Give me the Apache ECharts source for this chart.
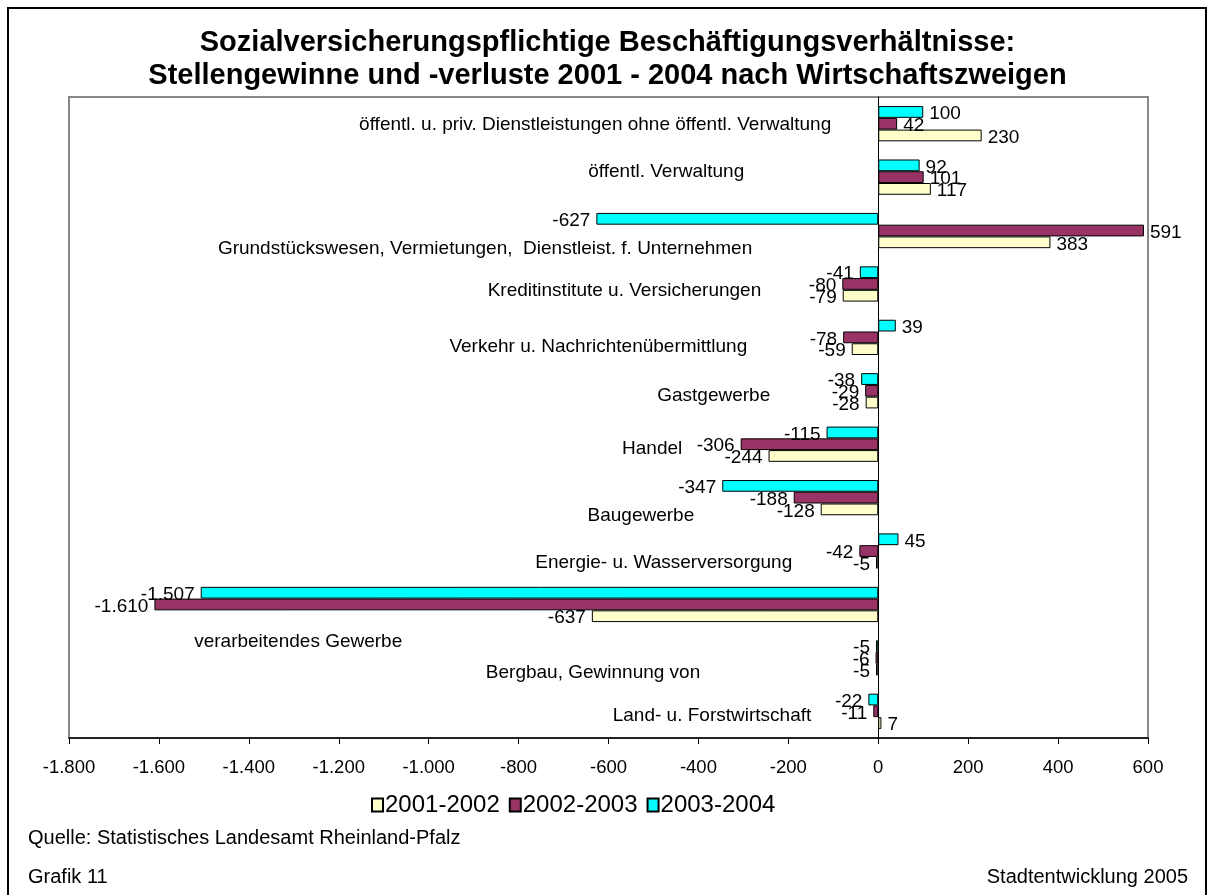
<!DOCTYPE html>
<html>
<head>
<meta charset="utf-8">
<title>Stellengewinne und -verluste 2001 - 2004</title>
<script src="https://cdn.jsdelivr.net/npm/echarts@6/dist/echarts.min.js"></script>
<style>
    html, body { margin: 0; padding: 0; background: #fff; }
    #chart { width: 1215px; height: 895px; }
</style>
</head>
<body>
<div id="chart"></div>
<script>
// Wirtschaftszweige, von unten nach oben
var categories = [
    "Land- u. Forstwirtschaft",
    "Bergbau, Gewinnung von",
    "verarbeitendes Gewerbe",
    "Energie- u. Wasserversorgung",
    "Baugewerbe",
    "Handel",
    "Gastgewerbe",
    "Verkehr u. Nachrichtenübermittlung",
    "Kreditinstitute u. Versicherungen",
    "Grundstückswesen, Vermietungen,  Dienstleist. f. Unternehmen",
    "öffentl. Verwaltung",
    "öffentl. u. priv. Dienstleistungen ohne öffentl. Verwaltung"
];
var seriesNames = ["2001-2002", "2002-2003", "2003-2004"];
var v2001 = [7, -5, -637, -5, -128, -244, -28, -59, -79, 383, 117, 230];
var v2002 = [-11, -6, -1610, -42, -188, -306, -29, -78, -80, 591, 101, 42];
var v2003 = [-22, -5, -1507, 45, -347, -115, -38, 39, -41, -627, 92, 100];
var xTicks = { min: -1800, max: 600, interval: 200 };

// Verschiebung der Kategorie-Beschriftungen [nach links, nach unten] in px
var labelShift = [[59, 4], [170, 15], [468, 37], [78, 12], [176, 18], [188, 5],
    [100, 5], [123, 9], [109, 7], [118, 18], [126, -5], [39, 1]];

var FONT = "'Liberation Sans', Arial, sans-serif";
var colors = ["#FFFFCC", "#993366", "#00FFFF"];
var gridLeft = 69, gridRight = 67, chartWidth = 1215;

function de(v) {
    var s = String(Math.abs(v)).replace(/\B(?=(\d{3})+(?!\d))/g, ".");
    return (v < 0 ? "-" : "") + s;
}

var rich = {};
labelShift.forEach(function(d, i) {
    rich["c" + i] = {
        fontFamily: FONT,
        fontSize: 19,
        color: "#000",
        padding: [d[1] > 0 ? 2 * d[1] : 0, d[0], d[1] < 0 ? -2 * d[1] : 0, 0]
    };
});

// Abstand der Null-Linie vom linken Rand des Diagramms
var zeroPx = (0 - xTicks.min) / (xTicks.max - xTicks.min) * (chartWidth - gridLeft - gridRight);

function barSeries(name, values, color) {
    return {
        name: name,
        type: "bar",
        barGap: "0%",
        barCategoryGap: "34%",
        itemStyle: { color: color, borderColor: "#000", borderWidth: 1 },
        label: {
            show: true,
            distance: 6,
            offset: [0, 2],
            fontFamily: FONT,
            fontSize: 19,
            color: "#000",
            formatter: function(p) { return de(p.value); }
        },
        data: values.map(function(v) {
            return { value: v, label: { position: v < 0 ? "left" : "right" } };
        })
    };
}

var chart = echarts.init(document.getElementById("chart"), null, { renderer: "canvas" });
var option = {
    animation: false,
    backgroundColor: "#fff",
    textStyle: { fontFamily: FONT },
    title: [{
        text: "Sozialversicherungspflichtige Beschäftigungsverhältnisse:\nStellengewinne und -verluste 2001 - 2004 nach Wirtschaftszweigen",
        left: "center",
        top: 21,
        textStyle: { fontFamily: FONT, fontSize: 29, fontWeight: "bold", color: "#000", lineHeight: 33 }
    }, {
        text: "Quelle: Statistisches Landesamt Rheinland-Pfalz",
        left: 23, top: 823,
        textStyle: { fontFamily: FONT, fontSize: 20, fontWeight: "normal", color: "#000" }
    }, {
        text: "Grafik 11",
        left: 23, top: 862,
        textStyle: { fontFamily: FONT, fontSize: 20, fontWeight: "normal", color: "#000" }
    }, {
        text: "Stadtentwicklung 2005",
        right: 22, top: 862,
        textStyle: { fontFamily: FONT, fontSize: 20, fontWeight: "normal", color: "#000" }
    }],
    legend: {
        data: seriesNames,
        left: 366,
        top: 788,
        icon: "rect",
        itemWidth: 11,
        itemHeight: 13,
        itemGap: 9,
        textStyle: { fontFamily: FONT, fontSize: 24, color: "#000", padding: [0, 0, 0, -3] }
    },
    grid: {
        left: gridLeft, right: gridRight, top: 97, bottom: 157,
        show: true, borderColor: "#888", borderWidth: 2,
        containLabel: false, outerBoundsMode: "none"
    },
    xAxis: {
        type: "value",
        min: xTicks.min, max: xTicks.max, interval: xTicks.interval,
        splitLine: { show: false },
        axisLine: { show: true, onZero: false, lineStyle: { color: "#000", width: 1.5 } },
        axisTick: { show: true, inside: false, length: 6, lineStyle: { color: "#000" } },
        axisLabel: {
            margin: 20, fontFamily: FONT, fontSize: 18.5, color: "#000",
            formatter: function(v) { return de(v); }
        }
    },
    yAxis: {
        type: "category",
        data: categories,
        axisLine: { show: true, onZero: true, lineStyle: { color: "#000", width: 1 } },
        axisTick: { show: false },
        splitLine: { show: false },
        axisLabel: {
            interval: 0,
            margin: 8 - zeroPx,
            formatter: function(v, i) { return "{c" + i + "|" + v + "}"; },
            rich: rich
        }
    },
    graphic: [{
        type: "rect",
        shape: { x: 8, y: 8, width: 1198, height: 920 },
        style: { fill: null, stroke: "#000", lineWidth: 2 },
        silent: true
    }],
    // erste Reihe liegt oben in jeder Gruppe
    series: [
        barSeries(seriesNames[2], v2003, colors[2]),
        barSeries(seriesNames[1], v2002, colors[1]),
        barSeries(seriesNames[0], v2001, colors[0])
    ]
};
chart.setOption(option);
</script>
</body>
</html>
